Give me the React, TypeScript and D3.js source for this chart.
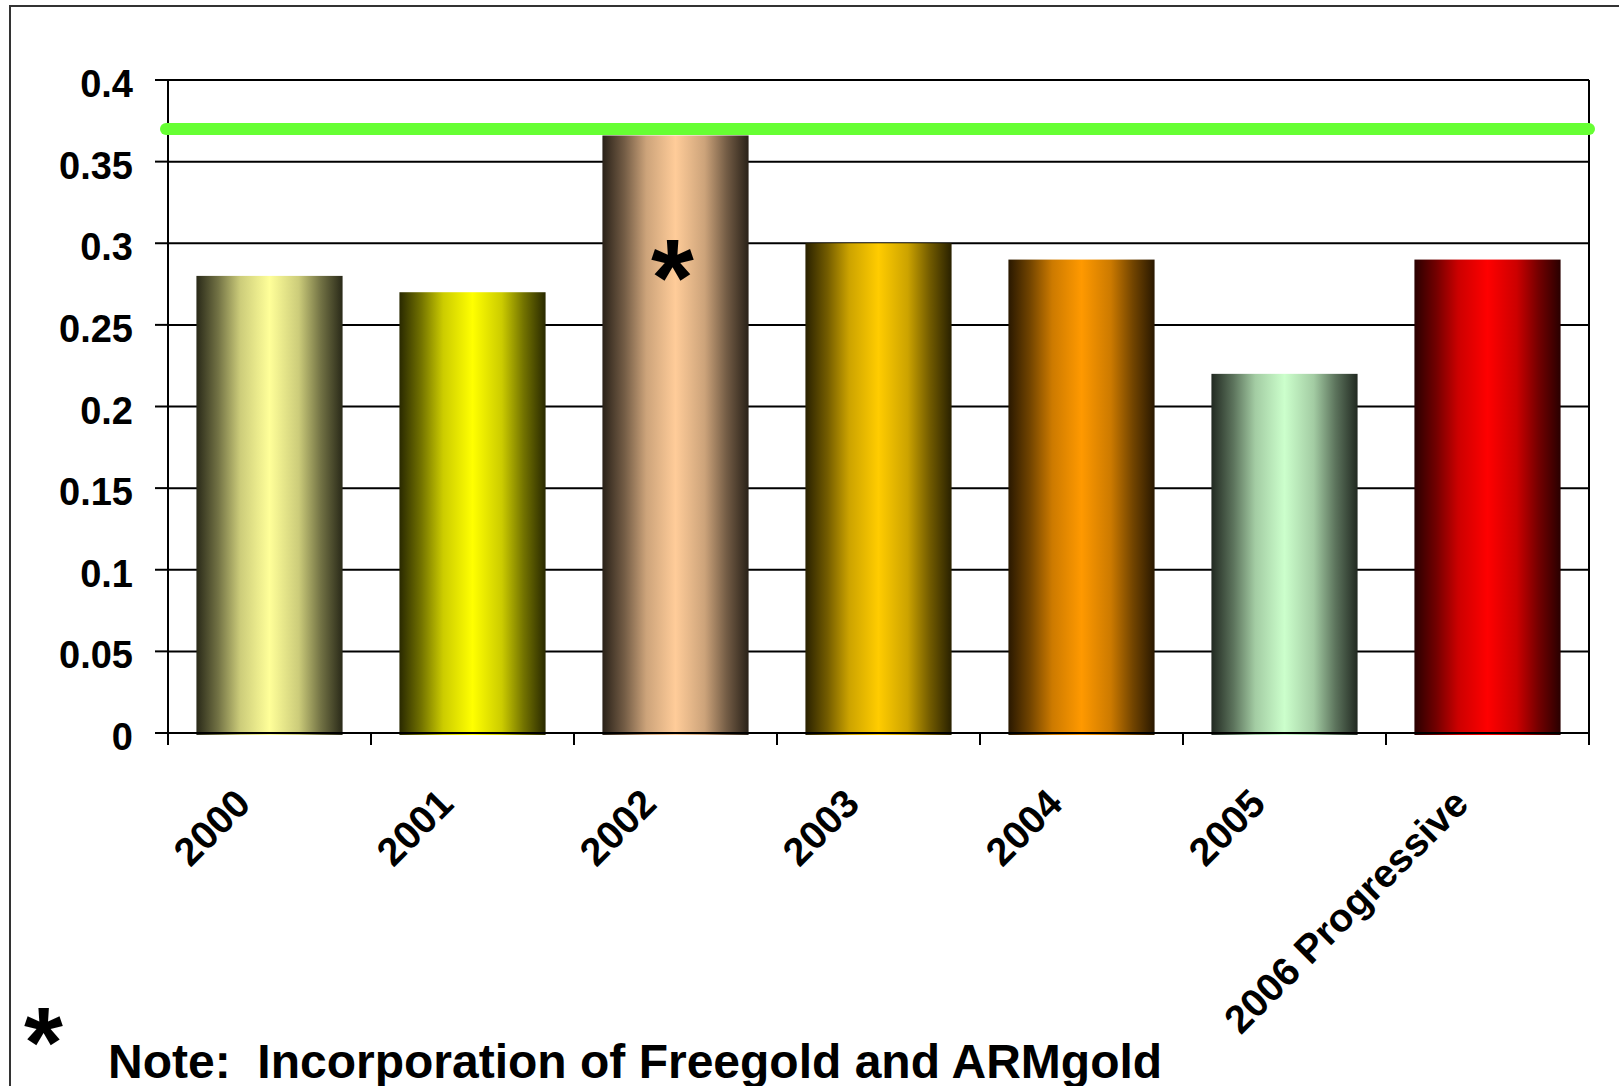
import React from "react";
import * as d3 from "d3";

const categories = ["2000", "2001", "2002", "2003", "2004", "2005", "2006 Progressive"];
const values = [0.28, 0.27, 0.366, 0.3, 0.29, 0.22, 0.29];
const barColors = ["#FFFF99", "#FFFF00", "#FFCC99", "#FFCC00", "#FF9900", "#CCFFCC", "#FF0000"];
const targetValue = 0.37;
const yTicks = [0, 0.05, 0.1, 0.15, 0.2, 0.25, 0.3, 0.35, 0.4];
const yTickLabels = ["0", "0.05", "0.1", "0.15", "0.2", "0.25", "0.3", "0.35", "0.4"];
const starredCategory = "2002";
const noteText = "Note:  Incorporation of Freegold and ARMgold";

const W = 1619;
const H = 1086;
const plot = { left: 168, right: 1589, top: 80, bottom: 733 };
const FONT = "'Liberation Sans', Arial, Helvetica, sans-serif";
const gradStops: [number, number][] = [
  [0, 0.16],
  [0.15, 0.45],
  [0.3, 0.8],
  [0.5, 1],
  [0.7, 0.8],
  [0.85, 0.45],
  [1, 0.16],
];

export default function App() {
  const x = d3
    .scaleBand<string>()
    .domain(categories)
    .range([plot.left, plot.right])
    .paddingInner(0.28)
    .paddingOuter(0.14);
  const y = d3.scaleLinear().domain([0, 0.4]).range([plot.bottom, plot.top]);
  const step = x.step();
  const boundaries = d3.range(categories.length + 1).map((i) => plot.left + i * step);

  return (
    <svg
      width={W}
      height={H}
      viewBox={`0 0 ${W} ${H}`}
      style={{ position: "absolute", left: 0, top: 0, background: "#fff" }}
    >
      <defs>
        {barColors.map((c, i) => {
          const interp = d3.interpolateRgb("#000000", c);
          return (
            <linearGradient id={`g${i}`} key={i} x1="0" x2="1" y1="0" y2="0">
              {gradStops.map(([o, t]) => (
                <stop key={o} offset={o} stopColor={interp(t)} />
              ))}
            </linearGradient>
          );
        })}
      </defs>
      <rect x={0} y={0} width={W} height={H} fill="#fff" />
      {/* outer frame */}
      <rect x={10} y={6} width={W + 20} height={H + 20} fill="none" stroke="#333" strokeWidth={2} />

      {/* gridlines */}
      {yTicks.map((t) => (
        <line key={t} x1={plot.left} x2={plot.right} y1={y(t)} y2={y(t)} stroke="#000" strokeWidth={2} />
      ))}
      {/* y tick marks */}
      {yTicks.map((t) => (
        <line key={"yt" + t} x1={plot.left - 13} x2={plot.left} y1={y(t)} y2={y(t)} stroke="#000" strokeWidth={2} />
      ))}
      {/* y labels */}
      {yTicks.map((t, i) => (
        <text
          key={"yl" + t}
          x={133}
          y={y(t) + 17}
          textAnchor="end"
          fontFamily={FONT}
          fontWeight="bold"
          fontSize={38}
          fill="#000"
        >
          {yTickLabels[i]}
        </text>
      ))}

      {/* bars */}
      {categories.map((c, i) => (
        <rect
          key={c}
          x={x(c)}
          y={y(values[i])}
          width={x.bandwidth()}
          height={y(0) - y(values[i]) + 2}
          fill={`url(#g${i})`}
        />
      ))}

      {/* plot frame: left axis, right border */}
      <line x1={plot.left} x2={plot.left} y1={plot.top} y2={plot.bottom + 12} stroke="#000" strokeWidth={2} />
      <line x1={plot.right} x2={plot.right} y1={plot.top} y2={plot.bottom + 12} stroke="#000" strokeWidth={2} />
      <line x1={plot.left} x2={plot.right} y1={plot.bottom} y2={plot.bottom} stroke="#000" strokeWidth={2} />
      {/* x tick marks */}
      {boundaries.map((bx, i) => (
        <line key={"xt" + i} x1={bx} x2={bx} y1={plot.bottom} y2={plot.bottom + 12} stroke="#000" strokeWidth={2} />
      ))}

      {/* target line */}
      <line
        x1={plot.left - 2}
        x2={plot.right}
        y1={y(targetValue)}
        y2={y(targetValue)}
        stroke="#66FF33"
        strokeWidth={12}
        strokeLinecap="round"
      />

      {/* asterisk on starred bar */}
      <text
        x={(x(starredCategory) as number) + x.bandwidth() / 2 - 3}
        y={315}
        textAnchor="middle"
        fontFamily={FONT}
        fontWeight="bold"
        fontSize={110}
        fill="#000"
      >
        *
      </text>

      {/* x labels */}
      {categories.map((c) => {
        const cx = (x(c) as number) + x.bandwidth() / 2 - 17;
        const cy = 806;
        return (
          <text
            key={"xl" + c}
            transform={`translate(${cx},${cy}) rotate(-45)`}
            textAnchor="end"
            fontFamily={FONT}
            fontWeight="bold"
            fontSize={39.5}
            fill="#000"
          >
            {c}
          </text>
        );
      })}

      {/* footnote */}
      <text x={24} y={1077} fontFamily={FONT} fontWeight="bold" fontSize={100} fill="#000">
        *
      </text>
      <text
        x={108}
        y={1078}
        fontFamily={FONT}
        fontWeight="bold"
        fontSize={48}
        fill="#000"
        style={{ whiteSpace: "pre" }}
        xmlSpace="preserve"
      >
        {noteText}
      </text>
    </svg>
  );
}
